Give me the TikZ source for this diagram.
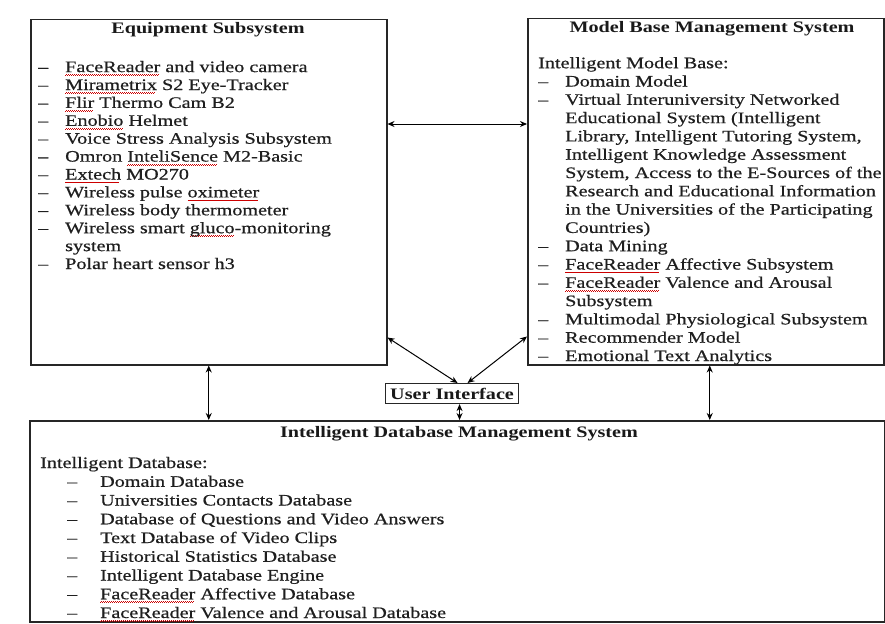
\documentclass[tikz,border=0pt]{standalone}
\usepackage{fontspec}
\setmainfont{Liberation Serif}[FakeStretch=1.26, UprightFeatures={FakeBold=0.6}]
\usetikzlibrary{arrows.meta}
\newsavebox\splbox
\newcommand\spl[1]{\leavevmode\sbox\splbox{#1}\rlap{\color{red!80!black}\leaders\hbox{\rule[-3.4pt]{1pt}{0.5pt}\rule[-2.6pt]{1pt}{0.5pt}}\hskip\wd\splbox}\usebox\splbox}
\newcommand\di[1]{\makebox[27pt][l]{--}#1}
\newcommand\dd[1]{\hspace*{27pt}\makebox[33pt][l]{--}#1}
\newcommand\cont{\hspace*{27pt}}
\begin{document}
\begin{tikzpicture}[x=1pt,y=-1pt,
  box/.style={draw=black!85, line width=1.5pt, inner sep=0pt, anchor=north west},
  arr/.style={line width=1pt, {Stealth[length=7pt,width=6pt]}-{Stealth[length=7pt,width=6pt]}},
  txt/.style={anchor=base west, align=left, inner sep=0pt, text=black!88},
  ttl/.style={anchor=base, inner sep=0pt, text=black!90, font=\fontsize{16}{18}\selectfont\bfseries}]
\useasboundingbox (0,0) rectangle (885,623);
% boxes
\node[box, minimum width=356pt, minimum height=345pt] (eq) at (30,19) {};
\node[box, minimum width=356pt, minimum height=346pt] (mb) at (527,18) {};
\node[box, line width=1.1pt, minimum width=133pt, minimum height=20pt, font=\fontsize{16}{18}\selectfont\bfseries, text=black!90] (ui) at (385,383) {User Interface};
\node[box, minimum width=855pt, minimum height=201pt] (db) at (29,420) {};
% titles
\node[ttl] (eqh) at (208,34) {Equipment Subsystem};
\node[ttl] (mbh) at (712,33) {Model Base Management System};
\node[ttl] (dbh) at (459,437) {Intelligent Database Management System};
% left text (anchor = baseline of last line)
\node[txt, font=\fontsize{16}{17.9}\selectfont] (eqt) at (38,269) {%
\di{\spl{FaceReader} and video camera}\\
\di{\spl{Mirametrix} S2 Eye-Tracker}\\
\di{\spl{Flir} Thermo Cam B2}\\
\di{\spl{Enobio} Helmet}\\
\di{Voice Stress Analysis Subsystem}\\
\di{Omron \spl{InteliSence} M2-Basic}\\
\di{\spl{Extech} MO270}\\
\di{Wireless pulse \spl{oximeter}}\\
\di{Wireless body thermometer}\\
\di{Wireless smart \spl{gluco}-monitoring}\\
\cont system\\
\di{Polar heart sensor h3}};
% right text
\node[txt, font=\fontsize{16}{18.3}\selectfont] (mbt) at (538,361) {%
Intelligent Model Base:\\
\di{Domain Model}\\
\di{Virtual Interuniversity Networked}\\
\cont Educational System (Intelligent\\
\cont Library, Intelligent Tutoring System,\\
\cont Intelligent Knowledge Assessment\\
\cont System, Access to the E-Sources of the\\
\cont Research and Educational Information\\
\cont in the Universities of the Participating\\
\cont Countries)\\
\di{Data Mining}\\
\di{\spl{FaceReader} Affective Subsystem}\\
\di{\spl{FaceReader} Valence and Arousal}\\
\cont Subsystem\\
\di{Multimodal Physiological Subsystem}\\
\di{Recommender Model}\\
\di{Emotional Text Analytics}};
% bottom text
\node[txt, font=\fontsize{16}{18.75}\selectfont] (dbt) at (40,618) {%
Intelligent Database:\\
\dd{Domain Database}\\
\dd{Universities Contacts Database}\\
\dd{Database of Questions and Video Answers}\\
\dd{Text Database of Video Clips}\\
\dd{Historical Statistics Database}\\
\dd{Intelligent Database Engine}\\
\dd{\spl{FaceReader} Affective Database}\\
\dd{\spl{FaceReader} Valence and Arousal Database}};
% connectors
\coordinate (h) at (0,124);
\draw[arr] (eq.east |- h) -- (mb.west |- h);
\draw[arr] (eq.south) -- (eq.south |- db.north);
\coordinate (rs) at ([xshift=4pt]mb.south);
\draw[arr] (rs) -- (rs |- db.north);
\coordinate (ul) at ([xshift=5.5pt]ui.north);
\coordinate (ur) at ([xshift=15.5pt]ui.north);
\coordinate (us) at ([xshift=7.5pt]ui.south);
\draw[arr] (ul) -- ([yshift=28pt]eq.south east);
\draw[arr] (ur) -- ([yshift=29pt]mb.south west);
\draw[arr] (us) -- (us |- db.north);
\end{tikzpicture}
\end{document}
